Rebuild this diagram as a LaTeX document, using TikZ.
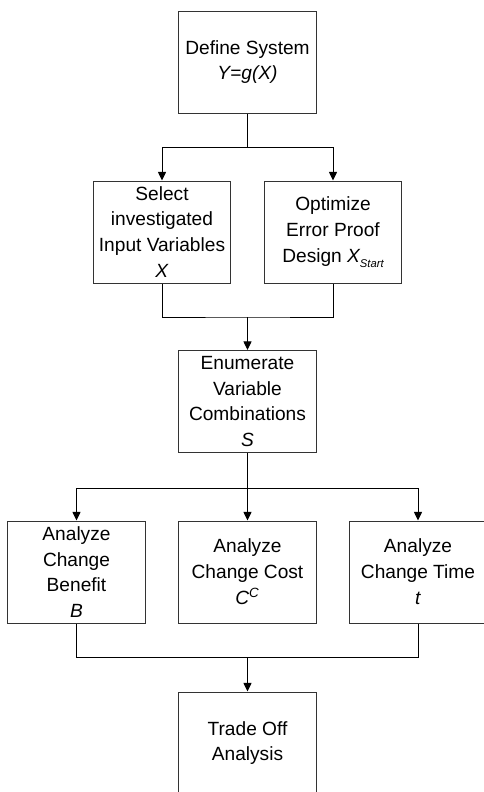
\documentclass[tikz,border=0pt]{standalone}
\usepackage{fontspec}
\setmainfont{Liberation Sans}
\usetikzlibrary{arrows.meta}
\begin{document}
\begin{tikzpicture}[x=0.025cm,y=-0.025cm,
    stage/.style={draw=black!80,line width=0.7pt,minimum width=3.425cm,minimum height=2.55cm,
        inner sep=0pt,align=center,font=\fontsize{13.6}{18.4}\selectfont},
    flow/.style={line width=0.7pt,-{Triangle[length=6.2pt,width=5.8pt]}}]
    \useasboundingbox (0,0) rectangle (483,792);
    % stages
    \node[stage] (define) at (247.5,62) {Define System\\\textit{Y=g(X)}};
    \node[stage] (select) at (162,232) {Select\\investigated\\Input Variables\\\textit{X}};
    \node[stage] (optimize) at (333,232) {Optimize\\Error Proof\\Design \textit{X\raisebox{-0.5ex}{\footnotesize Start}}};
    \node[stage] (enumerate) at (247.5,401.5) {Enumerate\\Variable\\Combinations\\\textit{S}};
    \node[stage] (benefit) at (76.5,572) {Analyze\\Change\\Benefit\\\textit{B}};
    \node[stage] (cost) at (247.5,572) {Analyze\\Change Cost\\\textit{C\textsuperscript{C}}};
    \node[stage] (time) at (418,572) {Analyze\\Change Time\\\textit{t}};
    \node[stage] (tradeoff) at (247.5,743) {Trade Off\\Analysis};
    % junctions
    \coordinate (split1) at (247.5,147);
    \coordinate (join1) at (247.5,317);
    \coordinate (split2) at (247.5,488);
    \coordinate (join2) at (247.5,657);
    % connectors
    \draw[line width=0.7pt] (define.south)--(split1);
    \draw[flow] (split1)-|(select.north);
    \draw[flow] (split1)-|(optimize.north);
    \draw[line width=0.7pt] (select.south)|-(join1)-|(optimize.south);
    \draw[flow] (join1)--(enumerate.north);
    \draw[line width=0.7pt] (enumerate.south)--(split2);
    \draw[flow] (split2)-|(benefit.north);
    \draw[flow] (split2)--(cost.north);
    \draw[flow] (split2)-|(time.north);
    \draw[line width=0.7pt] (benefit.south)|-(join2)-|(time.south);
    \draw[flow] (join2)--(tradeoff.north);
\end{tikzpicture}
\end{document}
